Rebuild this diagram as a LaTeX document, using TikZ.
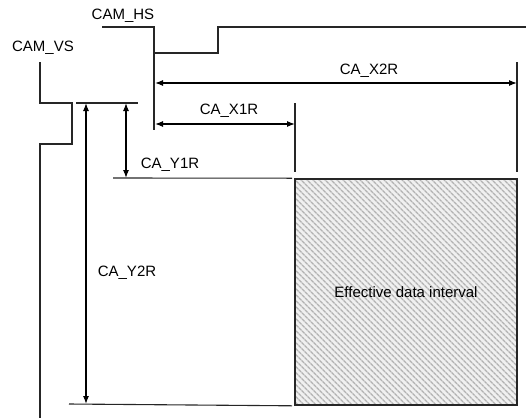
\documentclass[tikz,border=0pt]{standalone}
\usepackage{fontspec}
\setmainfont{Liberation Sans}
\usetikzlibrary{arrows.meta,patterns.meta,positioning}

\begin{document}
\begin{tikzpicture}[x=1pt, y=-1pt,
  sig/.style={line width=1.2pt, draw=black!85},
  guide/.style={line width=1.1pt, draw=black!85},
  dim/.style={line width=1.2pt, draw=black,
              {Latex[length=8pt,width=6pt]}-{Latex[length=8pt,width=6pt]}},
  lbl/.style={font=\fontsize{15}{17}\selectfont, inner sep=0pt},
  area/.style={draw=black!85, line width=1.1pt, minimum width=222pt,
               minimum height=226pt, inner sep=0pt,
               preaction={fill=gray!12},
               pattern={Lines[angle=-45,distance=4pt,line width=1.6pt]},
               pattern color=gray!60, font=\fontsize{15}{17}\selectfont}
]
  \useasboundingbox (0,0) rectangle (526,418);

  \node[lbl] (hs) at (123,16) {CAM\_HS};
  \node[lbl] (vs) at (43,48) {CAM\_VS};

  \coordinate (hsstart) at (102,27);
  \coordinate (hsfall) at (154,53);
  \coordinate (hsend) at (154,130);
  \coordinate (vsstart) at (40,62);
  \coordinate (vsend) at (40,418);

  \draw[sig] (hsstart) -| (hsfall) -| (218,27) -- (526,27);
  \draw[sig] (hsfall) -- (hsend);
  \draw[sig] (vsstart) |- (72,103) |- (40,144) -- (vsend);

  \node[area] (eff) at (406,292) {Effective data interval};

  \coordinate (top) at (138,103);
  \draw[guide] (76,103) -- (top);
  \draw[guide] (113,178) -- (eff.north west -| 292,0);
  \draw[guide] (69,404) -- (eff.south west -| 292,0);
  \draw[guide] (295,103) -- (295,172);
  \draw[guide] (517,62) -- (517,172);

  \coordinate (x2l) at (155,83);
  \coordinate (x2r) at (517,83);
  \coordinate (x1l) at (155,124);
  \coordinate (x1r) at (295,124);
  \coordinate (y1t) at (126,103);
  \coordinate (y1b) at (126,178);
  \coordinate (y2t) at (86,103);
  \coordinate (y2b) at (86,404);

  \draw[dim] (x2l) -- (x2r);
  \draw[dim] (x1l) -- (x1r);
  \draw[dim] (y1t) -- (y1b);
  \draw[dim] (y2t) -- (y2b);

  \node[lbl] (x2) at (369,71) {CA\_X2R};
  \node[lbl] (x1) at (229,111) {CA\_X1R};
  \node[lbl] (y1) at (170,165) {CA\_Y1R};
  \node[lbl] (y2) at (127,273) {CA\_Y2R};
\end{tikzpicture}
\end{document}
